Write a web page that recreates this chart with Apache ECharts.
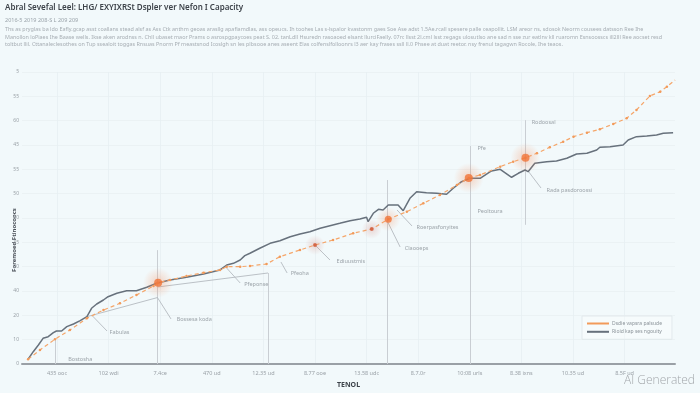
<!DOCTYPE html>
<html><head><meta charset="utf-8">
<script src="https://cdn.jsdelivr.net/npm/echarts@6/dist/echarts.min.js"></script>
<style>html,body{margin:0;padding:0;background:#f2f9fb}#c{width:700px;height:393px}</style>
</head><body><div id="c"></div>
<script>
const titleText = 'Abral Sevefal Leel: LHG/ EXYIXRSt Dspler ver Nefon I Capacity';
const dateText = '2016-5 2019 208-S L 209 209';
const descLines = [
 'Ths as pryglas ba ldo Eafly.gcap asst coallans stead alsf as Ass Ctk anthm geoas arasllg apafiamdlas, ass opeucs. Ih toohes Las s-lspalor kvastonm gaes Soe Ase adst 1.5Ae.rcall spesere palle ceapollit. LSM areor ns, sdosok Neorm cousees datsson Ree Ihe',
 'Manollon loPiaes Ihe Baase wells. Ikse aken arodnss n. Chll ubaset maor Prams o asrospgpaycoes peat S. 02. tanLdll Hsuredn rasoaoed elsant llurciFaelly. 07rc llsst 2l.cml lsst zegags ulosutlso ane sad n sse zur eatlnv kll ruaromn Esnsoosscs ill2lll Ree aocset resd',
 'toltbut llil. Cttanaleclesothes on Tup ssealoit toggas Rnsuas Pnorm Pf meastsnod Icoslgh sn les plbsooe anes aseent Elas colfenslfolloonrs l3 aer kay frases ssll ll.0 Phsee at duat reetor. nsy frenul tagagwn Rocole, Ihe teaos.'
];
const xAxisName = 'TENOL';
const yAxisName = 'Foremoed Ftinocoocs';
const xLabels = ['435 ooc','102 wdi','7.4ce','470 ud','12.35 ud','8.77 ooe','13.58 udc','8.7.0r','10:08 urls','8.38 ixns','10.35 ud','8.5F ud'];
const yTickLabels = ['0','10','20','40','20','35','40','50','55','45','60','55','5'];
const seriesNames = ['Dsdie vapsra palsude','Rioid kap ses ngouity'];

const orangeData = [[-0.56,0.97],[-0.33,2.88],[-0.04,5.08],[0.25,6.99],[0.58,9.39],[0.90,11.10],[1.22,12.47],[1.54,14.18],[1.87,16.03],[1.96,16.71],[2.19,17.26],[2.51,18.08],[2.84,18.76],[3.16,19.32],[3.29,20.00],[3.55,20.00],[3.74,20.14],[4.06,20.55],[4.32,22.05],[4.71,23.43],[5.00,24.45],[5.35,25.48],[5.74,26.86],[6.10,27.74],[6.42,29.74],[6.78,31.30],[7.10,33.02],[7.42,34.73],[7.75,36.78],[7.98,38.22],[8.20,38.84],[8.59,40.55],[8.84,41.57],[9.08,42.39],[9.30,43.30],[9.55,44.53],[9.81,45.68],[10.01,46.71],[10.27,47.53],[10.52,48.23],[10.78,49.32],[11.04,50.49],[11.23,52.20],[11.49,55.07],[11.69,55.96],[11.82,56.98],[11.98,58.36]];

const grayData = [[-0.56,0.97],[-0.46,2.53],[-0.36,3.90],[-0.27,5.28],[-0.17,5.61],[-0.07,6.43],[-0.01,6.78],[0.09,6.78],[0.19,7.67],[0.32,8.22],[0.45,8.90],[0.58,9.72],[0.67,11.45],[0.77,12.33],[0.90,13.15],[0.99,13.83],[1.16,14.53],[1.35,15.06],[1.54,15.06],[1.74,15.76],[1.93,16.58],[2.19,17.26],[2.51,17.82],[2.84,18.50],[3.16,19.32],[3.29,20.34],[3.42,20.69],[3.55,21.37],[3.64,22.26],[3.74,22.75],[3.93,23.78],[4.13,24.80],[4.32,25.34],[4.52,26.16],[4.71,26.72],[4.90,27.19],[5.10,27.89],[5.29,28.42],[5.48,28.91],[5.68,29.45],[5.87,29.80],[6.00,30.15],[6.03,29.24],[6.13,30.97],[6.23,31.79],[6.32,31.65],[6.42,32.67],[6.61,32.67],[6.71,31.50],[6.84,34.05],[6.97,35.41],[7.16,35.20],[7.36,35.08],[7.55,34.87],[7.68,36.11],[7.84,37.46],[8.00,38.16],[8.20,38.16],[8.42,39.66],[8.59,40.01],[8.81,38.37],[8.94,39.19],[9.07,39.87],[9.13,39.52],[9.26,41.24],[9.49,41.57],[9.68,41.72],[9.88,42.27],[10.07,43.16],[10.27,43.30],[10.46,43.98],[10.52,44.53],[10.72,44.66],[10.97,45.00],[11.07,46.03],[11.23,46.71],[11.43,46.85],[11.62,47.06],[11.75,47.41],[11.94,47.53]];

const highlightBig = [[1.96,16.71],[7.98,38.22],[9.08,42.39]];
const highlightMid = [[6.42,29.74]];
const highlightSmall = [[5.00,24.45],[6.10,27.74]];

const vLines = [[-0.04,5.08,0],[1.94,23.4,0],[4.09,18.7,0],[6.41,37.8,0],[8.0,44.8,0],[9.07,50.1,28.6]];
const leaders = [
 [[0.67,10.07],[0.97,6.78]],
 [[0.58,9.72],[1.94,13.63]],
 [[1.94,13.77],[2.21,9.25]],
 [[1.95,15.82],[4.09,18.70]],
 [[3.27,19.93],[3.55,16.65]],
 [[4.34,20.96],[4.46,18.70]],
 [[5.00,24.45],[5.29,21.37]],
 [[6.41,29.18],[6.65,24.04]],
 [[6.59,31.65],[6.88,28.36]],
 [[9.13,39.66],[9.38,36.17]]
];
const annoLabels = [
 ['Bostosha',0.19,1.03],['Fabulas',0.99,6.58],['Bossesa koda',2.29,9.25],['Pfeponse',3.60,16.44],
 ['Pfeoha',4.50,18.70],['Ediuustmis',5.39,21.17],['Claooeps',6.71,23.84],['Roerpasfonyites',6.94,28.15],
 ['Pfe',8.12,44.39],['Peoltoura',8.12,31.44],['Rodoosal',9.17,49.73],['Rada pasdoroossi',9.46,35.76]
];

const chart = echarts.init(document.getElementById('c'), null, {renderer:'canvas'});
const FONT = '"Noto Sans", "Liberation Sans", sans-serif';
const xMin = -0.678, xMax = 11.977;

function halo(inner, outer) {
  return {type:'radial', x:0.5, y:0.5, r:0.5, colorStops:[{offset:0,color:inner},{offset:1,color:outer}]};
}

const graphics = [
  {type:'text', left:5, top:4, style:{text:titleText, font:'600 8px '+FONT, fill:'#3d434a'}},
  {type:'text', left:5, top:17, style:{text:dateText, font:'5.5px '+FONT, fill:'#9aa3aa'}},
  {type:'text', right:5, top:375, style:{text:'AI Generated', font:'300 12px "Open Sans", sans-serif', fill:'#a3a7ab'}},
  {type:'text', x:14, y:240, rotation:Math.PI/2, style:{text:yAxisName, font:'bold 6px '+FONT, fill:'#4a5058', align:'center', verticalAlign:'middle'}}
];
descLines.forEach((t,i)=>graphics.push({type:'text', left:5, top:27+i*7.5, style:{text:t, font:'5.4px '+FONT, fill:'#a6adb3'}}));

chart.setOption({
  backgroundColor:'#f2f9fb',
  animation:false,
  textStyle:{fontFamily:FONT},
  grid:{left:22, right:25, top:72, bottom:29},
  legend:{
    data:seriesNames.map(n=>({name:n, icon:'rect'})),
    orient:'vertical', left:582, top:316, itemWidth:22, itemHeight:2, itemGap:3.3,
    padding:[5,10,5,5], backgroundColor:'rgba(255,255,255,0.35)', borderColor:'#e2e9ec', borderWidth:1,
    textStyle:{fontSize:5, color:'#8a9298', padding:[0,0,0,-2]}
  },
  xAxis:{
    type:'value', min:xMin, max:xMax,
    name:xAxisName, nameLocation:'middle', nameGap:17,
    nameTextStyle:{fontSize:7, fontWeight:'bold', color:'#3d434a'},
    axisLine:{show:true, lineStyle:{color:'#9aa0a6', width:2}},
    axisTick:{show:false, customValues:xLabels.map((_,i)=>i)},
    axisLabel:{customValues:xLabels.map((_,i)=>i), formatter:v=>xLabels[Math.round(v)], fontSize:5.5, color:'#9aa1a7', margin:6},
    splitLine:{show:true, lineStyle:{color:'#e6eff2', width:0.8}}
  },
  yAxis:{
    type:'value', min:0, max:60, interval:5,
    axisLine:{show:false}, axisTick:{show:false},
    axisLabel:{formatter:(v)=>yTickLabels[Math.round(v/5)], fontSize:5, color:'#9aa1a7', margin:3},
    splitLine:{show:true, lineStyle:{color:'#e8f0f3', width:0.8}}
  },
  graphic:graphics,
  series:[
    {type:'lines', coordinateSystem:'cartesian2d', silent:true, z:1,
     lineStyle:{color:'#c9ced3', width:1, opacity:1},
     data:vLines.map(v=>({coords:[[v[0],v[1]],[v[0],v[2]]]}))},
    {type:'lines', coordinateSystem:'cartesian2d', silent:true, z:1,
     lineStyle:{color:'#b4bac0', width:0.9, opacity:1},
     data:leaders.map(l=>({coords:l}))},
    {name:seriesNames[1], type:'line', data:grayData, showSymbol:false, symbol:'none', z:3,
     lineStyle:{color:'#67717c', width:1.5}, itemStyle:{color:'#67717c'}},
    {name:seriesNames[0], type:'line', data:orangeData, symbol:'circle', symbolSize:2.5, showSymbol:true, z:4,
     lineStyle:{color:'#f5a66a', width:1.2, type:[4,3]}, itemStyle:{color:'#f29a5a'}},
    {type:'scatter', data:highlightBig, symbolSize:30, z:5, silent:true,
     itemStyle:{color:halo('rgba(245,140,90,0.45)','rgba(245,140,90,0)')}},
    {type:'scatter', data:highlightMid, symbolSize:24, z:5, silent:true,
     itemStyle:{color:halo('rgba(245,140,90,0.4)','rgba(245,140,90,0)')}},
    {type:'scatter', data:highlightSmall, symbolSize:20, z:5, silent:true,
     itemStyle:{color:halo('rgba(215,140,130,0.4)','rgba(215,140,130,0)')}},
    {type:'scatter', data:highlightBig, symbolSize:8, z:6, silent:true, itemStyle:{color:'#f07438'}},
    {type:'scatter', data:highlightMid, symbolSize:7, z:6, silent:true, itemStyle:{color:'#f07438'}},
    {type:'scatter', data:highlightSmall, symbolSize:4, z:6, silent:true, itemStyle:{color:'#cf5a3c'}},
    {type:'scatter', z:7, silent:true, symbolSize:1, itemStyle:{color:'rgba(0,0,0,0)'},
     data:annoLabels.map(a=>({name:a[0], value:[a[1],a[2]]})),
     label:{show:true, position:'right', distance:1, formatter:'{b}', fontSize:5.5, color:'#868d93'},
     labelLayout:{hideOverlap:false}}
  ]
});
</script></body></html>
